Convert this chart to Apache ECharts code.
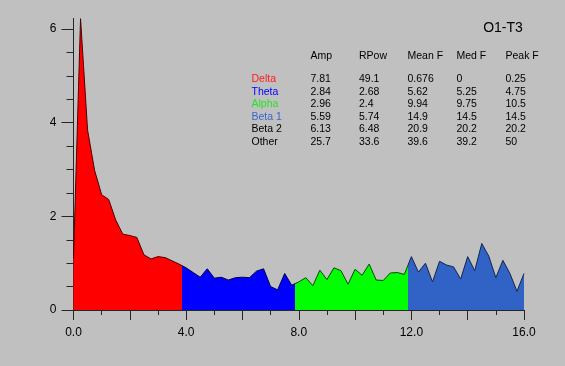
<!DOCTYPE html>
<html><head><meta charset="utf-8">
<script src="https://cdn.jsdelivr.net/npm/echarts@6/dist/echarts.min.js"></script>
<style>html,body{margin:0;padding:0;background:#c0c0c0}#c{width:565px;height:366px}</style>
</head><body><div id="c"></div>
<script>
// Frequency bins (Hz)
const freqs = [0,0.25,0.5,0.75,1,1.25,1.5,1.75,2,2.25,2.5,2.75,3,3.25,3.5,3.75,
  4,4.25,4.5,4.75,5,5.25,5.5,5.75,6,6.25,6.5,6.75,7,7.25,7.5,7.75,
  8,8.25,8.5,8.75,9,9.25,9.5,9.75,10,10.25,10.5,10.75,11,11.25,11.5,11.75,
  12,12.25,12.5,12.75,13,13.25,13.5,13.75,14,14.25,14.5,14.75,15,15.25,15.5,15.75,16];
// Spectral amplitude
const amplitude = [1.10,6.22,3.84,2.98,2.46,2.36,1.92,1.62,1.59,1.55,1.18,1.09,1.14,1.12,1.05,0.98,
  0.90,0.80,0.70,0.88,0.68,0.70,0.64,0.69,0.70,0.69,0.83,0.88,0.50,0.43,0.78,0.53,
  0.60,0.69,0.52,0.85,0.65,0.90,0.84,0.55,0.87,0.74,0.98,0.64,0.63,0.79,0.80,0.76,
  1.14,0.81,1.00,0.60,1.04,0.96,0.92,0.66,1.14,0.84,1.42,1.15,0.69,1.06,0.78,0.40,0.78];
// Band boundaries used for the fill colours
const bandEdges = [0, 3.85, 7.87, 11.88, 16];
const bandFill = ['#ff0000', '#0000ff', '#00ff00', '#3163c6'];
const bandLine = ['#4a0000', '#00004a', '#004a00', '#10244a'];

// Table
const tableHeaders = ['Amp', 'RPow', 'Mean F', 'Med F', 'Peak F'];
const bandNames = ['Delta', 'Theta', 'Alpha', 'Beta 1', 'Beta 2', 'Other'];
const bandNameColors = ['#ff1a1a', '#0000ff', '#1ee61e', '#3a66cc', '#000000', '#000000'];
const ampCol = ['7.81', '2.84', '2.96', '5.59', '6.13', '25.7'];
const rpowCol = ['49.1', '2.68', '2.4', '5.74', '6.48', '33.6'];
const meanFCol = ['0.676', '5.62', '9.94', '14.9', '20.9', '39.6'];
const medFCol = ['0', '5.25', '9.75', '14.5', '20.2', '39.2'];
const peakFCol = ['0.25', '4.75', '10.5', '14.5', '20.2', '50'];
const chartTitle = 'O1-T3';

const data = freqs.map((f, i) => [f, amplitude[i]]);
const fillPieces = bandFill.map((c, i) => ({ gte: bandEdges[i], lt: i === bandFill.length - 1 ? 100 : bandEdges[i + 1], color: c }));
const linePieces = bandLine.map((c, i) => ({ gte: bandEdges[i], lt: i === bandLine.length - 1 ? 100 : bandEdges[i + 1], color: c }));

const font = '"Liberation Sans", Arial, sans-serif';
const colX = [310.5, 359, 407.5, 456.5, 505.5];
const nameX = 251.5;
const headerY = 56;
const rowY0 = 79.5, rowDy = 12.5;
const tfs = 10.5;
const graphics = [];
tableHeaders.forEach((h, j) => graphics.push({ type: 'text', x: colX[j], y: headerY,
  style: { text: h, fill: '#000', font: tfs + 'px ' + font, textVerticalAlign: 'middle', textAlign: 'left' } }));
const cols = [ampCol, rpowCol, meanFCol, medFCol, peakFCol];
bandNames.forEach((n, i) => {
  const y = rowY0 + i * rowDy;
  graphics.push({ type: 'text', x: nameX, y: y,
    style: { text: n, fill: bandNameColors[i], font: tfs + 'px ' + font, textVerticalAlign: 'middle', textAlign: 'left' } });
  cols.forEach((col, j) => graphics.push({ type: 'text', x: colX[j], y: y,
    style: { text: col[i], fill: '#000', font: tfs + 'px ' + font, textVerticalAlign: 'middle', textAlign: 'left' } }));
});
graphics.push({ type: 'text', x: 503, y: 28.5,
  style: { text: chartTitle, fill: '#000', font: '14px ' + font, textVerticalAlign: 'middle', textAlign: 'center' } });

const axisColor = '#262626';
const chart = echarts.init(document.getElementById('c'), null, { renderer: 'canvas' });
chart.setOption({
  backgroundColor: '#c0c0c0',
  animation: false,
  textStyle: { fontFamily: font },
  grid: { left: 73.5, right: 41, top: 29, bottom: 56, containLabel: false },
  xAxis: {
    type: 'value', min: 0, max: 16, interval: 2,
    axisLine: { show: true, onZero: false, lineStyle: { color: axisColor, width: 1 } },
    axisTick: { show: true, length: 10, lineStyle: { color: axisColor } },
    minorTick: { show: true, splitNumber: 2, length: 5, lineStyle: { color: axisColor } },
    splitLine: { show: false }, minorSplitLine: { show: false },
    axisLabel: { color: '#000', fontSize: 12, margin: 17, fontFamily: font,
      formatter: v => (Math.round(v) % 4 === 0 ? v.toFixed(1) : '') }
  },
  yAxis: {
    type: 'value', min: 0, max: 6, interval: 2,
    axisLine: { show: true, lineStyle: { color: axisColor, width: 1 }, symbol: ['none', 'rect'], symbolSize: [1, 22] },
    axisTick: { show: true, length: 12, lineStyle: { color: axisColor } },
    minorTick: { show: true, splitNumber: 4, length: 7, lineStyle: { color: axisColor } },
    splitLine: { show: false }, minorSplitLine: { show: false },
    axisLabel: { color: '#000', fontSize: 12, margin: 17, fontFamily: font }
  },
  visualMap: [
    { type: 'piecewise', show: false, dimension: 0, seriesIndex: 0, pieces: fillPieces },
    { type: 'piecewise', show: false, dimension: 0, seriesIndex: 1, pieces: linePieces }
  ],
  series: [
    { type: 'line', data: data, showSymbol: false, symbol: 'none', clip: false,
      lineStyle: { width: 0 }, areaStyle: { opacity: 1 }, z: 2 },
    { type: 'line', data: data, showSymbol: false, symbol: 'none', clip: false,
      lineStyle: { width: 1 }, z: 3 }
  ],
  graphic: graphics
});
</script></body></html>
